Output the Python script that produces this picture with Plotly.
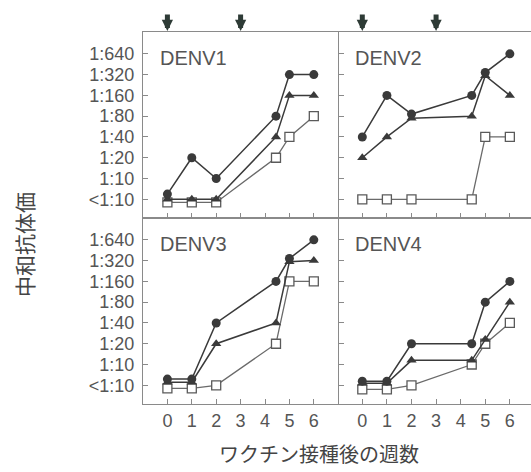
import plotly.graph_objects as go

weeks = [0, 1, 2, 4.45, 5, 6]
titre_labels = ['<1:10', '1:10', '1:20', '1:40', '1:80', '1:160', '1:320', '1:640']
x_ticks = [0, 1, 2, 3, 4, 5, 6]
panel_names = ['DENV1', 'DENV2', 'DENV3', 'DENV4']
arrow_weeks = [0, 3]

# values in titre steps (index into titre_labels)
denv1_circle = [0.25, 2, 1, 4, 6, 6]
denv1_triangle = [0, 0, 0, 3, 5, 5]
denv1_square = [-0.15, -0.15, -0.15, 2, 3, 4]

denv2_circle = [3, 5, 4.1, 5, 6.1, 7]
denv2_triangle = [2, 3, 3.9, 4, 5.95, 5]
denv2_square = [0, 0, 0, 0, 3, 3]

denv3_circle = [0.3, 0.3, 3, 5, 6.1, 7]
denv3_triangle = [0.15, 0.15, 2, 3, 5.95, 6]
denv3_square = [-0.15, -0.15, 0, 2, 5, 5]

denv4_circle = [0.2, 0.2, 2, 2, 4, 5]
denv4_triangle = [0.1, 0.1, 1.2, 1.2, 2.2, 4]
denv4_square = [-0.2, -0.2, 0, 1, 2, 3]

panels = [
    (denv1_circle, denv1_triangle, denv1_square),
    (denv2_circle, denv2_triangle, denv2_square),
    (denv3_circle, denv3_triangle, denv3_square),
    (denv4_circle, denv4_triangle, denv4_square),
]

FONT = 'Liberation Sans, Arial, sans-serif'
CJK = 'Noto Sans CJK JP, sans-serif'
TXT = '#555555'
FRAME = '#8a8a8a'
DARK = '#3a3a3a'

fig = go.Figure()

axis_ids = [('x', 'y'), ('x2', 'y2'), ('x3', 'y3'), ('x4', 'y4')]
for i, (circ, tri, sq) in enumerate(panels):
    xa, ya = axis_ids[i]
    fig.add_trace(go.Scatter(x=weeks, y=sq, mode='lines+markers', xaxis=xa, yaxis=ya,
                             line=dict(color='#6a6a6a', width=1.3),
                             marker=dict(symbol='square', size=9, color='white',
                                         line=dict(color='#5a5a5a', width=1.3)),
                             showlegend=False))
    fig.add_trace(go.Scatter(x=weeks, y=tri, mode='lines+markers', xaxis=xa, yaxis=ya,
                             line=dict(color=DARK, width=1.5),
                             marker=dict(symbol='triangle-up', size=9, color=DARK),
                             showlegend=False))
    fig.add_trace(go.Scatter(x=weeks, y=circ, mode='lines+markers', xaxis=xa, yaxis=ya,
                             line=dict(color=DARK, width=1.5),
                             marker=dict(symbol='circle', size=9, color=DARK),
                             showlegend=False))

xdom_l = [0, 0.505]
xdom_r = [0.505, 1]
ydom_t = [0.5, 1]
ydom_b = [0, 0.5]
yrange = [-0.9, 8.05]
xr_l = [-1.0, 7.03]
xr_r = [-0.95, 6.86]

def xax(dom, rng, anchor, labels):
    return dict(domain=dom, range=rng, anchor=anchor, tickvals=x_ticks,
                ticktext=[str(v) for v in x_ticks], showticklabels=labels,
                ticks='inside', ticklen=5, tickcolor=FRAME, showline=True,
                linecolor=FRAME, linewidth=1.2, mirror=True, showgrid=False,
                zeroline=False, tickfont=dict(family=FONT, size=18, color=TXT),
                fixedrange=True)

def yax(dom, anchor, labels):
    return dict(domain=dom, range=yrange, anchor=anchor, tickvals=list(range(8)),
                ticktext=titre_labels, showticklabels=labels, ticks='inside',
                ticklen=5, tickcolor=FRAME, showline=True, linecolor=FRAME,
                linewidth=1.2, mirror=False, showgrid=False, zeroline=False,
                tickfont=dict(family=FONT, size=18, color=TXT),
                ticklabelstandoff=4, fixedrange=True)

fig.update_layout(
    width=531, height=472,
    margin=dict(l=143, r=0, t=32, b=68),
    paper_bgcolor='white', plot_bgcolor='white',
    xaxis=xax(xdom_l, xr_l, 'y', False),
    yaxis=yax(ydom_t, 'x', True),
    xaxis2=xax(xdom_r, xr_r, 'y2', False),
    yaxis2=yax(ydom_t, 'x2', False),
    xaxis3=xax(xdom_l, xr_l, 'y3', True),
    yaxis3=yax(ydom_b, 'x3', True),
    xaxis4=xax(xdom_r, xr_r, 'y4', True),
    yaxis4=yax(ydom_b, 'x4', False),
)

ann = []
for i, name in enumerate(panel_names):
    xa, ya = axis_ids[i]
    ann.append(dict(x=-0.39, y=6.78, xref=xa, yref=ya, text=name, showarrow=False,
                    xanchor='left', yanchor='middle',
                    font=dict(family=FONT, size=20, color=TXT)))

for xa in ['x', 'x2']:
    for w in arrow_weeks:
        ann.append(dict(x=w, y=1.0, xref=xa, yref='paper', ax=0, ay=-19,
                        axref='pixel', ayref='pixel', text='', showarrow=True,
                        arrowhead=2, arrowsize=0.45, arrowwidth=5,
                        standoff=1, arrowcolor='#2e3b36'))

ann.append(dict(x=(24 - 143) / 388, y=(404 - 244) / 372, xref='paper', yref='paper',
                text='中和抗体価', showarrow=False, textangle=-90,
                xanchor='center', yanchor='middle',
                font=dict(family=CJK, size=21, color='#444444')))
ann.append(dict(x=(319 - 143) / 388, y=(404 - 454) / 372, xref='paper', yref='paper',
                text='ワクチン接種後の週数', showarrow=False,
                xanchor='center', yanchor='middle',
                font=dict(family=CJK, size=20, color='#444444')))
fig.update_layout(annotations=ann)

fig.write_html('out.html')
